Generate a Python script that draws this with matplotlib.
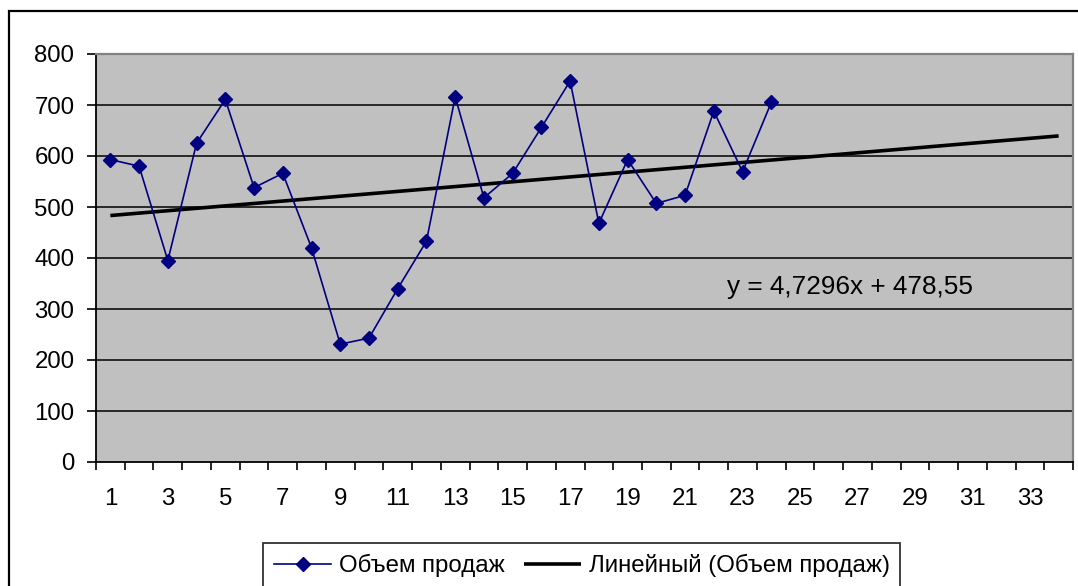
import numpy as np
import matplotlib
matplotlib.use('Agg')
import matplotlib.pyplot as plt
from matplotlib.patches import Rectangle

# Data ------------------------------------------------------------------------

periods = list(range(1, 35))  # categories on the x axis (1..34)
sales = [593, 580, 395, 625, 711, 538, 566, 420, 231, 243, 340, 433,
         716, 518, 566, 656, 747, 468, 593, 507, 523, 688, 569, 705]

SLOPE = 4.7296
INTERCEPT = 478.55

y_ticks = [0, 100, 200, 300, 400, 500, 600, 700, 800]
x_tick_labels = [str(p) for p in periods[::2]]

SERIES_LABEL = 'Объем продаж'
TREND_LABEL = 'Линейный (Объем продаж)'
EQUATION = 'y = 4,7296x + 478,55'

# Plot ------------------------------------------------------------------------

plt.rcParams['font.family'] = ['Liberation Sans', 'DejaVu Sans']
FS = 17.3

fig = plt.figure(figsize=(10.78, 5.86), dpi=100)
ax = fig.add_axes([96 / 1078, 1 - 462 / 586, 977 / 1078, 408 / 586])
ax.set_facecolor('#C0C0C0')

x_sales = np.arange(1, len(sales) + 1)
x_trend = np.array(periods)
trend = SLOPE * x_trend + INTERCEPT

ax.plot(x_sales, sales, color='#000080', lw=1.2, marker='D', ms=6.8,
        markerfacecolor='#000080', markeredgecolor='#000080',
        label=SERIES_LABEL, zorder=4)
ax.plot(x_trend, trend, color='black', lw=2.6, label=TREND_LABEL, zorder=3,
        solid_capstyle='butt')

ax.text(22.45, 344, EQUATION, fontsize=18.8, va='center', ha='left', zorder=5)

# axes
ax.set_xlim(0.5, len(periods) + 0.5)
ax.set_ylim(0, 800)
ax.set_yticks(y_ticks)
ax.set_yticklabels([str(v) for v in y_ticks], fontsize=FS)
ax.tick_params(axis='y', direction='out', length=6.5, width=1.2, pad=9,
               colors='black')

ax.set_xticks(np.arange(0.5, len(periods) + 1, 1))
ax.set_xticklabels([])
ax.set_xticks(periods[::2], minor=True)
ax.set_xticklabels(x_tick_labels, minor=True, fontsize=FS)
ax.tick_params(axis='x', which='major', direction='out', length=6, width=1.2)
ax.tick_params(axis='x', which='minor', length=0, pad=19)

ax.yaxis.grid(True, color='black', lw=1.1)
gl = ax.get_ygridlines()
gl[0].set_visible(False)
gl[-1].set_visible(False)
ax.set_axisbelow(True)

for side in ['left', 'bottom']:
    ax.spines[side].set_color('black')
    ax.spines[side].set_linewidth(1.3)
for side in ['top', 'right']:
    ax.spines[side].set_color('#808080')
    ax.spines[side].set_linewidth(1.6)

# legend
leg = fig.legend(loc='upper left', bbox_to_anchor=(263 / 1078, 1 - 543 / 586),
                 ncol=2, fontsize=FS, frameon=True, fancybox=False,
                 edgecolor='black', handlelength=2.4, handletextpad=0.3,
                 columnspacing=0.8, borderpad=0.45, borderaxespad=0)
leg.get_frame().set_linewidth(1.3)

# outer chart border
fig.patches.append(Rectangle((8.5 / 1078, -0.2), 1.2, 1.2 - 11 / 586,
                             transform=fig.transFigure, fill=False,
                             edgecolor='black', lw=1.6))

fig.savefig('out.png', dpi=100)
